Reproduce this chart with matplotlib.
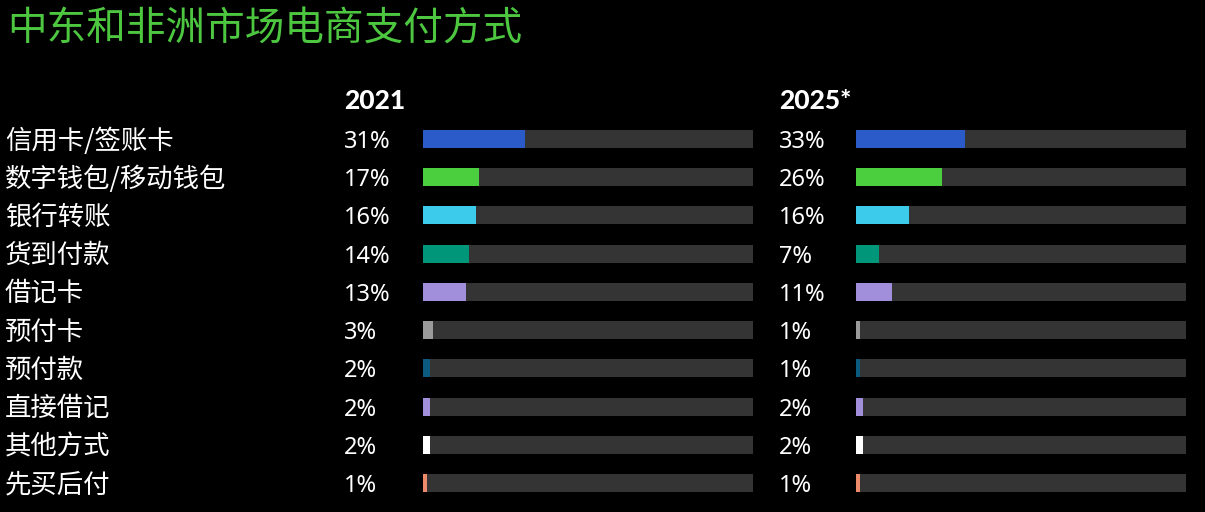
import matplotlib
matplotlib.use("Agg")
import matplotlib.pyplot as plt
from matplotlib.transforms import blended_transform_factory, offset_copy

plt.rcParams['font.family'] = ['Noto Sans CJK SC', 'DejaVu Sans']

title = "中东和非洲市场电商支付方式"
categories = ["信用卡/签账卡", "数字钱包/移动钱包", "银行转账", "货到付款", "借记卡",
              "预付卡", "预付款", "直接借记", "其他方式", "先买后付"]
years = ["2021", "2025*"]
values_2021 = [31, 17, 16, 14, 13, 3, 2, 2, 2, 1]
values_2025 = [33, 26, 16, 7, 11, 1, 1, 2, 2, 1]
colors = ["#2b5bc8", "#4ccf3f", "#3dcbeb", "#00967a", "#a28fdc",
          "#9a9a9a", "#0b5b80", "#a28fdc", "#ffffff", "#ec8a6a"]
track_color = "#343434"
bg = "#000000"

W, H = 1205, 512
fig = plt.figure(figsize=(W / 100, H / 100), dpi=100, facecolor=bg)

row_top, row_bot = 139, 483
n = len(categories)
step = (row_bot - row_top) / (n - 1)
ax_top = row_top - step / 2
ax_bot = row_bot + step / 2

def make_axes(x0, x1):
    ax = fig.add_axes([x0 / W, 1 - ax_bot / H, (x1 - x0) / W, (ax_bot - ax_top) / H])
    ax.set_facecolor(bg)
    ax.set_xlim(0, 100)
    ax.set_ylim(n - 0.5, -0.5)
    ax.axis('off')
    return ax

panels = [(423, 753, 344, values_2021), (856, 1186, 779, values_2025)]
ys = list(range(n))
for (x0, x1, lx, vals), yr in zip(panels, years):
    ax = make_axes(x0, x1)
    ax.barh(ys, [100] * n, height=0.47, color=track_color, left=0)
    ax.barh(ys, [max(v, 1.2) for v in vals], height=0.47, color=colors)
    tr = blended_transform_factory(fig.transFigure, ax.transData)
    tr_pct = offset_copy(tr, fig=fig, y=-3, units='dots')
    tr_cat = offset_copy(tr, fig=fig, y=-2, units='dots')
    for y, v in zip(ys, vals):
        ax.text(lx / W, y, f"{v}%", transform=tr_pct, ha='left', va='center',
                color='white', fontsize=17, family=['Noto Sans', 'DejaVu Sans'])
    fig.text(lx / W, 1 - 101 / H, yr, ha='left', va='center', color='white',
             fontsize=19, fontweight='black', family=['Lato', 'DejaVu Sans'])
    if yr == years[0]:
        for y, c in zip(ys, categories):
            ax.text(5 / W, y, c, transform=tr_cat, ha='left', va='center',
                    color='white', fontsize=19)

fig.text(7 / W, 1 - 30 / H, title, ha='left', va='center', color='#4dc740', fontsize=28.5)

fig.savefig("out.png", dpi=100, facecolor=bg)
